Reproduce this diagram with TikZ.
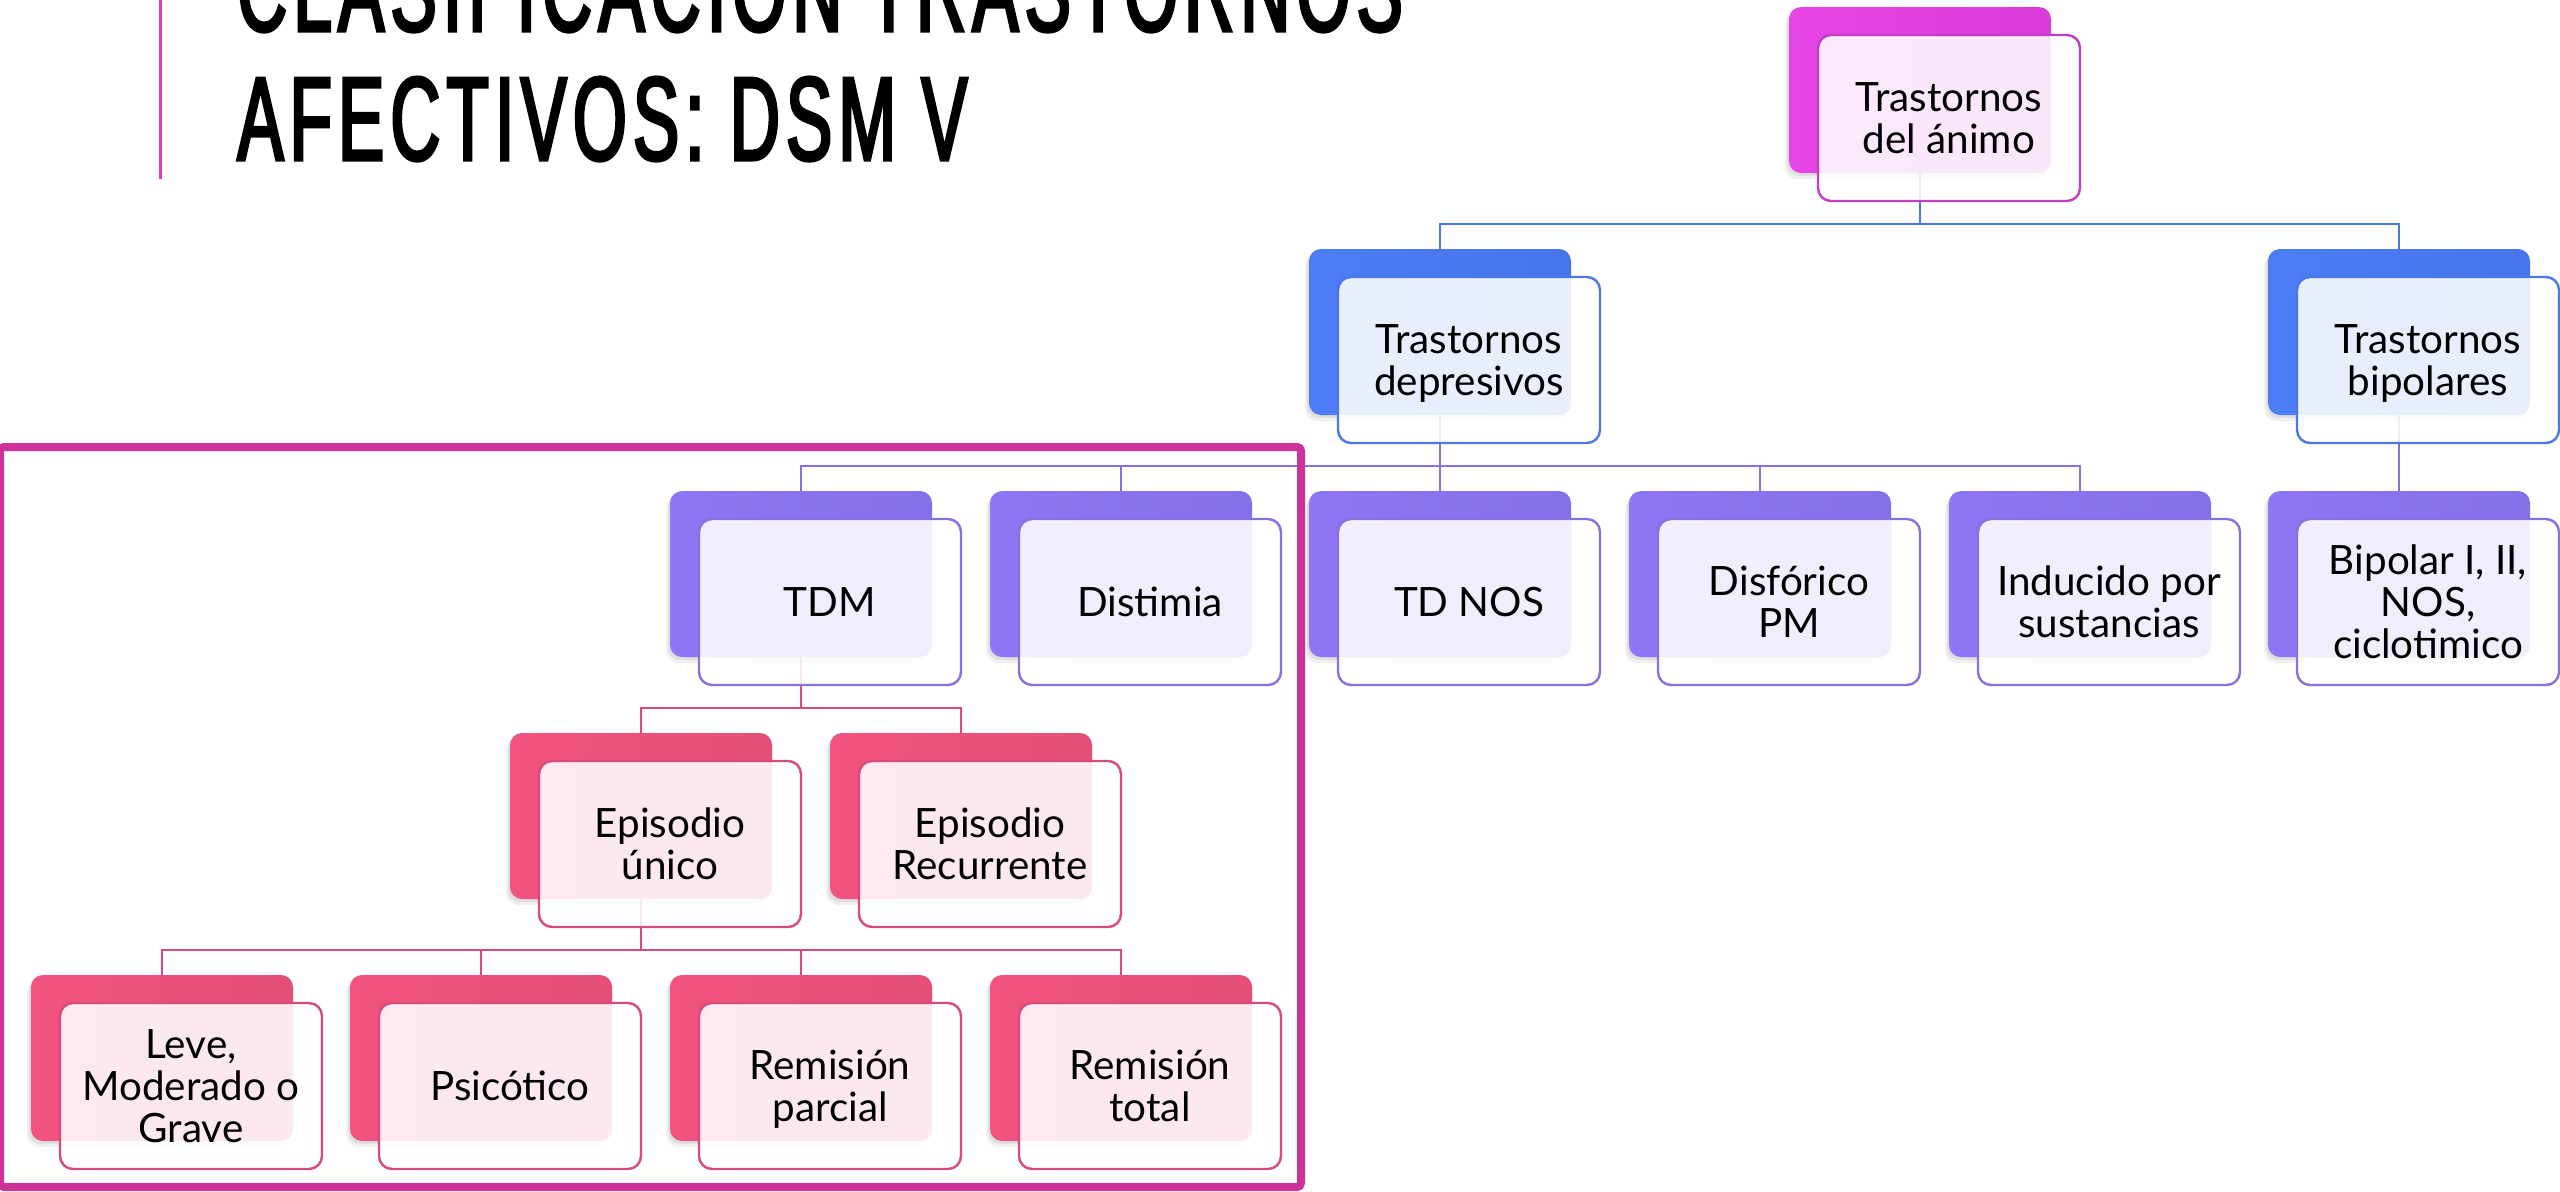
\documentclass[tikz,border=0pt]{standalone}
\usepackage{fontspec}
\setmainfont{Lato}
\newfontfamily\titlefont[FakeStretch=0.58,FakeBold=2.5,LetterSpace=5.3]{Liberation Sans}
\usetikzlibrary{calc,shadows}
\pgfdeclarelayer{bg}
\pgfsetlayers{bg,main}

\definecolor{magA}{HTML}{E646E6}
\definecolor{magB}{HTML}{D83CD8}
\definecolor{magLine}{HTML}{C43CC4}
\definecolor{bluA}{HTML}{4C7DF7}
\definecolor{bluB}{HTML}{4874EA}
\definecolor{bluLine}{HTML}{4A78E6}
\definecolor{purA}{HTML}{8E76F4}
\definecolor{purB}{HTML}{866FEA}
\definecolor{purLine}{HTML}{8870E0}
\definecolor{pnkA}{HTML}{F25380}
\definecolor{pnkB}{HTML}{E44E78}
\definecolor{pnkLine}{HTML}{D84A78}
\definecolor{frameC}{HTML}{CC3399}
\definecolor{titleBar}{HTML}{DC3CB0}

% one tier box: a shaded back card and a translucent front card carrying the text
\newcommand\tierbox[7]{%
  \node[backbox,#4] (#1) at (#2,#3) {};
  \node[frontbox,draw=#5,#6] (#1-t) at ($(#1.center)+(14.5pt,-14pt)$) {#7};
}

\begin{document}
\begin{tikzpicture}[x=0.5pt,y=-0.5pt,
  backbox/.style={rounded corners=6pt, minimum width=131pt, minimum height=83pt,
    inner sep=0pt,
    general shadow={shadow xshift=-1pt, shadow yshift=-1.5pt, fill=black, opacity=0.07},
    general shadow={shadow xshift=-2pt, shadow yshift=-3pt, fill=black, opacity=0.06}},
  magfill/.style={left color=magA, right color=magB},
  blufill/.style={left color=bluA, right color=bluB},
  purfill/.style={left color=purA, right color=purB},
  pnkfill/.style={left color=pnkA, right color=pnkB},
  frontbox/.style={rounded corners=6.5pt, minimum width=131pt, minimum height=83pt,
    fill=white, fill opacity=0.88, text opacity=1, line width=1.2pt,
    align=center, inner sep=0pt, text depth=0pt,
    font=\fontsize{20.2}{21.2}\selectfont},
  oneline/.style={text height=14.4pt},
  twolines/.style={text height=35.6pt},
  threelines/.style={text height=56.8pt},
  conn/.style={draw=#1, line width=1pt},
  titletext/.style={anchor=base west, inner sep=0pt,
    font=\titlefont\fontsize{59.5}{60}\selectfont}]

\path[use as bounding box] (0,0) rectangle (2560,1191);
\clip (0,0) rectangle (2560,1191);

% heading with its side bar
\coordinate (bartop) at (160,0);
\coordinate (barbot) at (160,179);
\draw[titleBar, line width=1.5pt] (bartop) -- (barbot);
\node[titletext] (title1) at (237,31) {CLASIFICACIÓN TRASTORNOS};
\node[titletext] (title2) at (237,160) {AFECTIVOS: DSM V};

% hierarchy
\tierbox{root}{1920}{90}{magfill}{magLine}{twolines}{Trastornos\\del ánimo}

\tierbox{dep}{1440}{332}{blufill}{bluLine}{twolines}{Trastornos\\depresivos}
\tierbox{bip}{2399}{332}{blufill}{bluLine}{twolines}{Trastornos\\bipolares}

\tierbox{tdm}{801}{574}{purfill}{purLine}{oneline}{TDM}
\tierbox{dist}{1121}{574}{purfill}{purLine}{oneline}{Distimia}
\tierbox{tdnos}{1440}{574}{purfill}{purLine}{oneline}{TD NOS}
\tierbox{disf}{1760}{574}{purfill}{purLine}{twolines}{Disfórico\\PM}
\tierbox{induc}{2080}{574}{purfill}{purLine}{twolines}{Inducido por\\sustancias}
\tierbox{bipI}{2399}{574}{purfill}{purLine}{threelines}{Bipolar I, II,\\NOS,\\ciclotimico}

\tierbox{unico}{641}{816}{pnkfill}{pnkLine}{twolines}{Episodio\\único}
\tierbox{recur}{961}{816}{pnkfill}{pnkLine}{twolines}{Episodio\\Recurrente}

\tierbox{leve}{162}{1058}{pnkfill}{pnkLine}{threelines}{Leve,\\Moderado o\\Grave}
\tierbox{psic}{481}{1058}{pnkfill}{pnkLine}{oneline}{Psicótico}
\tierbox{rparc}{801}{1058}{pnkfill}{pnkLine}{twolines}{Remisión\\parcial}
\tierbox{rtot}{1121}{1058}{pnkfill}{pnkLine}{twolines}{Remisión\\total}

% elbow connectors, kept behind the cards
\begin{pgfonlayer}{bg}
\foreach \c in {dep,bip}
  \draw[conn=bluLine] (root.center) |- ($(\c.north)+(0,12.25pt)$) -| (\c.center);
\foreach \c in {tdm,dist,tdnos,disf,induc}
  \draw[conn=purLine] (dep.center) |- ($(\c.north)+(0,12.25pt)$) -| (\c.center);
\draw[conn=purLine] (bip.center) -- (bipI.center);
\foreach \c in {unico,recur}
  \draw[conn=pnkLine] (tdm.center) |- ($(\c.north)+(0,12.25pt)$) -| (\c.center);
\foreach \c in {leve,psic,rparc,rtot}
  \draw[conn=pnkLine] (unico.center) |- ($(\c.north)+(0,12.25pt)$) -| (\c.center);
\end{pgfonlayer}

% highlight frame around the major depressive branch
\coordinate (frameA) at (0,447);
\coordinate (frameB) at (1301,1187);
\draw[frameC, line width=4pt, rounded corners=2pt] (frameA) rectangle (frameB);
\end{tikzpicture}
\end{document}
